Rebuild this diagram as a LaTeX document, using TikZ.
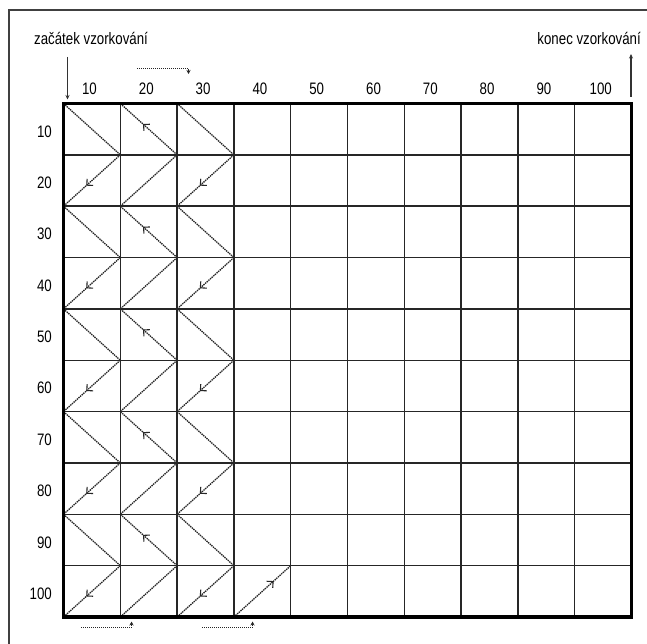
\documentclass[tikz,border=0pt]{standalone}
\usepackage{fontspec}
\setmainfont{Liberation Sans}[FakeStretch=0.8]
\usetikzlibrary{arrows.meta,decorations.markings}
\begin{document}
\begin{tikzpicture}[x=1pt,y=-1pt,
  every node/.style={inner sep=0pt,font=\fontsize{16.6}{19}\selectfont},
  gridline/.style={line width=1.5pt,black!85},
  outerline/.style={line width=3.8pt,black},
  diag/.style={line width=1.3pt,black!85,dash pattern=on 1.4pt off 0.8pt},
  arrowat/.style={postaction={decorate},decoration={markings,
      mark=at position #1 with {\arrow[line width=1.1pt,black!85]{Straight Barb[length=4.5pt,width=9pt]}}}},
  dotarrow/.style={line width=1pt,black!85,dash pattern=on 1.2pt off 0.8pt,-{Stealth[length=4pt,width=4pt]}},
  markarrow/.style={line width=1.1pt,black!80,-{Stealth[length=4.5pt,width=4pt]}}
]
\useasboundingbox (0,0) rectangle (647,644);
\fill[white] (0,0) rectangle (647,644);
% outer frame (cropped)
\draw[line width=1.1pt,black!75] (9,644) -- (9,10) -- (647,10);
% grid corner coordinates
\foreach \i in {0,...,10}{
  \foreach \j in {0,...,10}{
    \coordinate (p-\i-\j) at ({63.5+56.8*\i},{103.5+51.35*\j});
  }
}
% inner lines
\foreach \i in {1,...,9}{
  \draw[gridline] (p-\i-0) -- (p-\i-10);
  \draw[gridline] (p-0-\i) -- (p-10-\i);
}
% diagonals (zigzag scan)
\foreach \r in {0,...,9}{
  \pgfmathtruncatemacro{\s}{\r+1}
  \ifodd\r
    \draw[diag,arrowat=0.6] (p-1-\r) -- (p-0-\s);
    \draw[diag] (p-2-\r) -- (p-1-\s);
    \draw[diag,arrowat=0.6] (p-3-\r) -- (p-2-\s);
  \else
    \draw[diag] (p-0-\r) -- (p-1-\s);
    \draw[diag,arrowat=0.6] (p-2-\s) -- (p-1-\r);
    \draw[diag] (p-2-\r) -- (p-3-\s);
  \fi
}
\draw[diag,arrowat=0.7] (p-3-10) -- (p-4-9);
% outer border
\draw[outerline] (p-0-0) rectangle (p-10-10);
% column labels
\foreach \k [count=\c from 0] in {10,20,...,100}{
  \node[anchor=base] (col\k) at ({63.5+56.8*\c+26},95) {\k};
}
% row labels
\foreach \k [count=\c from 0] in {10,20,...,100}{
  \node[anchor=base east] (row\k) at (52,{103.5+51.35*\c+25.7+8}) {\k};
}
% start / end labels
\node[anchor=base west] (start) at (34,44.5) {začátek vzorkování};
\node[anchor=base east] (end) at (641,44.5) {konec vzorkování};
\coordinate (sa) at (67.5,57);
\coordinate (sb) at (67.5,99.5);
\draw[markarrow] (sa) -- (sb);
\coordinate (ea) at (631,97);
\coordinate (eb) at (631,54);
\draw[markarrow] (ea) -- (eb);
% dotted direction arrows
\coordinate (ta) at (137,69);
\coordinate (tb) at (188.5,69);
\coordinate (tc) at (188.5,74);
\draw[dotarrow] (ta) -- (tb) -- (tc);
\coordinate (ba) at (81,627.5);
\coordinate (bb) at (131.5,627.5);
\coordinate (bc) at (131.5,621.5);
\draw[dotarrow] (ba) -- (bb) -- (bc);
\coordinate (ca) at (202,627.5);
\coordinate (cb) at (252.5,627.5);
\coordinate (cc) at (252.5,621.5);
\draw[dotarrow] (ca) -- (cb) -- (cc);
\end{tikzpicture}
\end{document}
